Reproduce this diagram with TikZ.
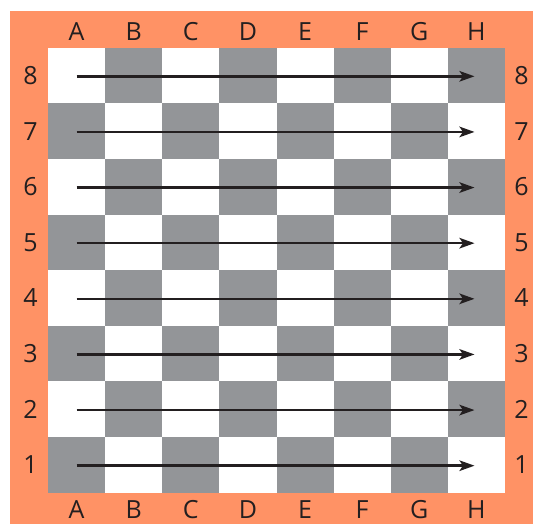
\documentclass[tikz,border=0pt]{standalone}
\usepackage{fontspec}
\setmainfont{Open Sans}
\usetikzlibrary{arrows.meta}
\definecolor{frame}{RGB}{255,146,101}
\definecolor{dark}{RGB}{147,149,152}
\definecolor{ink}{RGB}{35,31,32}
\tikzset{
  lbl/.style={font=\fontsize{25}{25}\selectfont, text=ink, inner sep=0pt, text height=17.8pt, text depth=0pt, anchor=center},
  rowarrow/.style={draw=ink, line width=2.5pt, -{Stealth[length=15pt,width=10.5pt,inset=3.5pt]}},
}
\begin{document}
\begin{tikzpicture}[x=1pt,y=-1pt]
\useasboundingbox (0,0) rectangle (533,524);
\fill[white] (0,0) rectangle (533,524);
\fill[frame] (9.5,11) rectangle (532.5,524);
\fill[white] (48,47.7) rectangle (505,492.7);
\def\bx{48}\def\by{47.7}\def\sw{57.125}\def\sh{55.625}
\foreach \c in {0,...,7}{
  \foreach \r in {0,...,7}{
    \pgfmathtruncatemacro{\myparity}{mod(\c+\r,2)}
    \ifnum\myparity=1
      \fill[dark] ({\bx+\c*\sw},{\by+\r*\sh}) rectangle ({\bx+(\c+1)*\sw},{\by+(\r+1)*\sh});
    \fi
  }
}
\foreach \L [count=\i from 0] in {A,B,C,D,E,F,G,H}{
  \node[lbl] (top\L) at ({\bx+(\i+0.5)*\sw},31.5) {\L};
  \node[lbl] (bot\L) at ({\bx+(\i+0.5)*\sw},510) {\L};
}
\foreach \n [count=\i from 0] in {8,7,6,5,4,3,2,1}{
  \node[lbl] (left\n) at (30.5,{\by+(\i+0.5)*\sh}) {\n};
  \node[lbl] (right\n) at (521.5,{\by+(\i+0.5)*\sh}) {\n};
  \coordinate (s\n) at (76.5,{\by+(\i+0.5)*\sh+0.8});
  \coordinate (e\n) at (474.5,{\by+(\i+0.5)*\sh+0.8});
  \draw[rowarrow] (s\n) -- (e\n);
}
\end{tikzpicture}
\end{document}
